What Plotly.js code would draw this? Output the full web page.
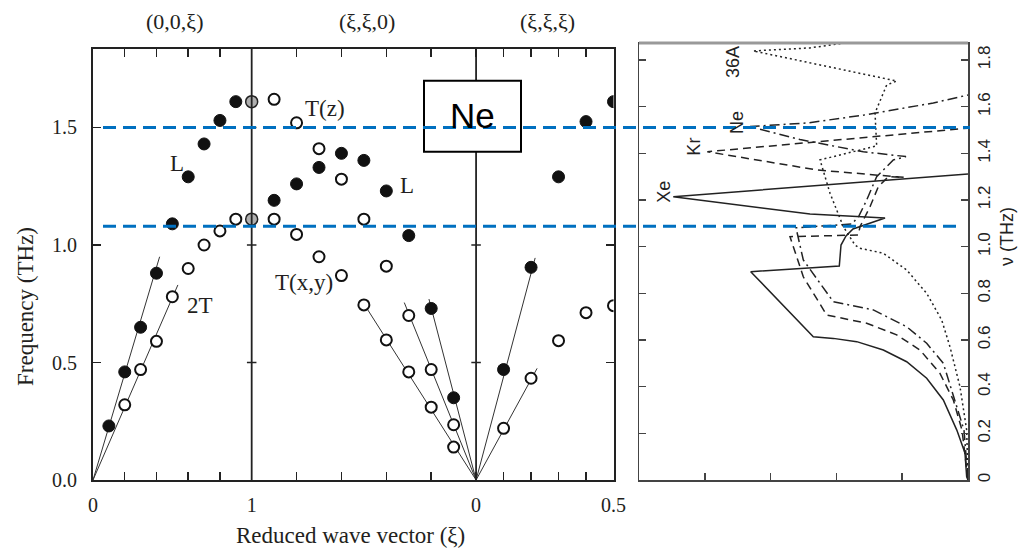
<!DOCTYPE html>
<html><head><meta charset="utf-8">
<script src="https://cdn.plot.ly/plotly-3.0.1.min.js"></script>
<style>html,body{margin:0;padding:0;background:#fff}#chart{width:1024px;height:549px}</style>
</head><body><div id="chart"></div>
<script>
// ===== Left panel: Ne phonon dispersion =====
const dirLabels = ['(0,0,ξ)', '(ξ,ξ,0)', '(ξ,ξ,ξ)'];
const freqTicks = [0, 0.5, 1.0, 1.5];
const freqTickText = ['0.0', '0.5', '1.0', '1.5'];

// (0,0,ξ)
const d100_L_xi = [0.1, 0.2, 0.3, 0.4, 0.5, 0.6, 0.7, 0.8, 0.9];
const d100_L_nu = [0.23, 0.46, 0.65, 0.88, 1.09, 1.29, 1.43, 1.53, 1.61];
const d100_T_xi = [0.2, 0.3, 0.4, 0.5, 0.6, 0.7, 0.8, 0.9];
const d100_T_nu = [0.32, 0.47, 0.59, 0.78, 0.90, 1.00, 1.06, 1.11];
// zone boundary X point (grey)
const zb_xi = [1.0, 1.0];
const zb_nu = [1.61, 1.11];
// (ξ,ξ,0)
const d110_L_xi = [0.9, 0.8, 0.7, 0.6, 0.5, 0.4, 0.3, 0.2, 0.1];
const d110_L_nu = [1.19, 1.26, 1.33, 1.39, 1.36, 1.23, 1.04, 0.73, 0.35];
const d110_Tz_xi = [0.9, 0.8, 0.7, 0.6, 0.5, 0.4, 0.3, 0.2, 0.1];
const d110_Tz_nu = [1.62, 1.52, 1.41, 1.28, 1.11, 0.91, 0.70, 0.47, 0.235];
const d110_Txy_xi = [0.9, 0.8, 0.7, 0.6, 0.5, 0.4, 0.3, 0.2, 0.1];
const d110_Txy_nu = [1.11, 1.045, 0.95, 0.87, 0.745, 0.596, 0.46, 0.31, 0.14];
// (ξ,ξ,ξ)
const d111_L_xi = [0.1, 0.2, 0.3, 0.4, 0.5];
const d111_L_nu = [0.47, 0.905, 1.29, 1.525, 1.61];
const d111_T_xi = [0.1, 0.2, 0.3, 0.4, 0.5];
const d111_T_nu = [0.22, 0.433, 0.593, 0.712, 0.742];

// sound-velocity lines from Γ: [segment, end ξ, end ν]
const slopeSeg = [0, 0, 1, 1, 1, 2, 2];
const slopeXi  = [0.42, 0.535, 0.5, 0.32, 0.21, 0.215, 0.222];
const slopeNu  = [0.95, 0.83, 0.75, 0.755, 0.77, 0.945, 0.475];

// ===== Right panel: density of states (ν in THz) =====
const xe_g  = [0, 0.02, 0.046, 0.17, 0.375, 0.628, 0.932, 1.287, 1.691, 2.047, 2.351, 3.302, 1.956, 1.930, 1.854, 1.748, 1.261, 2.401, 4.479, 0];
const xe_nu = [0, 0.014, 0.116, 0.214, 0.343, 0.436, 0.507, 0.557, 0.593, 0.607, 0.614, 0.893, 0.917, 1.007, 1.046, 1.076, 1.123, 1.140, 1.214, 1.312];
const kr_g  = [0, 0.091, 0.223, 0.426, 0.729, 1.084, 1.540, 2.147, 2.503, 2.705, 1.667, 1.641, 1.489, 1.363, 1.211, 0.973, 2.299, 3.962, 0];
const kr_nu = [0, 0.214, 0.343, 0.457, 0.557, 0.622, 0.672, 0.707, 0.871, 1.043, 1.050, 1.086, 1.171, 1.257, 1.300, 1.297, 1.329, 1.407, 1.508];
const ne_g  = [0, 0.061, 0.375, 0.628, 0.932, 1.439, 2.047, 2.503, 2.614, 1.763, 1.657, 1.540, 1.388, 1.135, 0.942, 1.591, 2.553, 3.313, 2.451, 1.540, 0.527, 0.172, 0];
const ne_nu = [0, 0.214, 0.500, 0.586, 0.657, 0.729, 0.764, 0.943, 1.081, 1.097, 1.132, 1.200, 1.300, 1.372, 1.386, 1.407, 1.459, 1.515, 1.530, 1.566, 1.616, 1.637, 1.650];
const ar_g  = [0, 0.020, 0.122, 0.274, 0.400, 0.628, 0.932, 1.287, 1.641, 1.717, 1.895, 2.097, 2.249, 1.388, 1.413, 1.236, 1.084, 2.553, 3.263, 2.401, 1.869];
const ar_nu = [0, 0.214, 0.400, 0.571, 0.686, 0.800, 0.900, 0.972, 0.993, 1.007, 1.086, 1.229, 1.372, 1.432, 1.573, 1.693, 1.710, 1.795, 1.839, 1.852, 1.873];
const dosNames = ['Xe', 'Kr', 'Ne', '36A'];
const dosLabelG  = [4.62, 4.16, 3.51, 3.56];
const dosLabelNu = [1.235, 1.43, 1.53, 1.79];
const nuTicks = [0, 0.2, 0.4, 0.6, 0.8, 1.0, 1.2, 1.4, 1.6, 1.8];
const nuTickText = ['0', '0.2', '0.4', '0.6', '0.8', '1.0', '1.2', '1.4', '1.6', '1.8'];

// highlighted frequencies (blue dashed)
const markFreq = [1.5, 1.08];

// ===== geometry helpers =====
const SQ2 = Math.SQRT2, SQ3 = Math.sqrt(3);
function pos(seg, xi) {
  if (seg === 0) return xi;
  if (seg === 1) return 1 + SQ2 * (1 - xi);
  return 1 + SQ2 + SQ3 * xi;
}
const XMAX = pos(2, 0.5);
const DIV1 = pos(0, 1), DIV2 = pos(1, 0);
const W = 1024, H = 549;
const px = v => v / W, py = v => 1 - v / H;

const serif = 'Liberation Serif, Times New Roman, serif';
const sans = 'Liberation Sans, Arial, sans-serif';
const ink = '#231f20';

const traces = [];
// slope lines
for (let i = 0; i < slopeSeg.length; i++) {
  traces.push({x: [pos(slopeSeg[i], 0), pos(slopeSeg[i], slopeXi[i])], y: [0, slopeNu[i]],
    mode: 'lines', line: {color: '#333', width: 1}, hoverinfo: 'skip', showlegend: false, xaxis: 'x', yaxis: 'y'});
}
function pts(seg, xs, ys, kind) {
  const m = kind === 'filled' ? {color: '#111', size: 12, line: {color: '#111', width: 1}}
          : kind === 'grey' ? {color: '#b0b0b0', size: 12, line: {color: '#222', width: 1.5}}
          : {color: '#fff', size: 11, line: {color: '#111', width: 2}};
  traces.push({x: xs.map(v => pos(seg, v)), y: ys, mode: 'markers', marker: m, showlegend: false, xaxis: 'x', yaxis: 'y'});
}
pts(0, d100_L_xi, d100_L_nu, 'filled');
pts(0, d100_T_xi, d100_T_nu, 'open');
pts(1, d110_L_xi, d110_L_nu, 'filled');
pts(1, d110_Tz_xi, d110_Tz_nu, 'open');
pts(1, d110_Txy_xi, d110_Txy_nu, 'open');
pts(2, d111_L_xi, d111_L_nu, 'filled');
pts(2, d111_T_xi, d111_T_nu, 'open');
pts(0, zb_xi, zb_nu, 'grey');

// DOS curves
const dosData = [[xe_g, xe_nu, 'solid'], [kr_g, kr_nu, '8px,5px'], [ne_g, ne_nu, '10px,4px,2px,4px'], [ar_g, ar_nu, '2px,3px']];
dosData.forEach(d => traces.push({x: d[0], y: d[1], mode: 'lines', line: {color: '#222', width: 1.5, dash: d[2]},
  showlegend: false, xaxis: 'x2', yaxis: 'y2'}));

// x ticks
const xTickVals = [], xTickText = [];
[[0, [0.2, 0.4, 0.6, 0.8]], [1, [0.2, 0.4, 0.6, 0.8]], [2, [0.1, 0.2, 0.3, 0.4]]].forEach(s => s[1].forEach(v => { xTickVals.push(pos(s[0], v)); xTickText.push(''); }));
[[0, 0, '0'], [0, 1, '1'], [1, 0, '0'], [2, 0.5, '0.5']].forEach(t => { xTickVals.push(pos(t[0], t[1])); xTickText.push(t[2]); });

const shapes = [];
// dividers
[DIV1, DIV2].forEach(xd => {
  shapes.push({type: 'line', xref: 'x', yref: 'y', x0: xd, x1: xd, y0: 0, y1: 1.834, line: {color: '#222', width: 1.8}});
  freqTicks.slice(1).forEach(f => shapes.push({type: 'line', xref: 'x', yref: 'y', x0: xd - 0.03, x1: xd + 0.03, y0: f, y1: f, line: {color: '#222', width: 1.5}}));
});
// Ne box
shapes.push({type: 'rect', xref: 'paper', yref: 'paper', x0: px(424), x1: px(521), y0: py(151.7), y1: py(80.7), fillcolor: '#fff', line: {color: '#000', width: 2}, layer: 'above'});
// right panel top edge (grey)
shapes.push({type: 'line', xref: 'paper', yref: 'paper', x0: px(639), x1: px(968), y0: py(43), y1: py(43), line: {color: '#999', width: 3}});
// blue dashed highlight lines
shapes.push({type: 'line', xref: 'paper', yref: 'y', x0: px(103), x1: px(970), y0: markFreq[0], y1: markFreq[0], line: {color: '#0070C0', width: 3, dash: '13px,7px'}, layer: 'above'});
shapes.push({type: 'line', xref: 'paper', yref: 'y', x0: px(103), x1: px(963), y0: markFreq[1], y1: markFreq[1], line: {color: '#0070C0', width: 3, dash: '13px,7px'}, layer: 'above'});

const ann = [];
function txt(text, x, y, family, size, extra) {
  ann.push(Object.assign({text: text, xref: 'paper', yref: 'paper', x: px(x), y: py(y), xanchor: 'center', yanchor: 'middle',
    showarrow: false, font: {family: family, size: size, color: ink}}, extra || {}));
}
const topX = [174, 367, 547];
dirLabels.forEach((t, i) => txt(t, topX[i], 22, serif, 22));
const branchLabels = [['L', 177, 164], ['2T', 200, 305], ['T(z)', 325, 108], ['L', 407, 185], ['T(x,y)', 304, 282]];
branchLabels.forEach(b => txt(b[0], b[1], b[2], serif, 23));
txt('Frequency (THz)', 25, 307, serif, 23, {textangle: -90});
txt('Reduced wave vector (ξ)', 350, 535, serif, 23);
txt('Ne', 472.5, 116, sans, 35, {font: {family: sans, size: 35, color: '#000'}});
dosNames.forEach((n, i) => ann.push({text: n, xref: 'x2', yref: 'y2', x: dosLabelG[i], y: dosLabelNu[i], xanchor: 'center', yanchor: 'middle',
  textangle: -90, showarrow: false, font: {family: sans, size: 18, color: '#222'}}));
txt('ν (THz)', 1007, 237, sans, 18, {textangle: -90, font: {family: sans, size: 18, color: '#222'}});

const layout = {
  width: W, height: H, margin: {l: 0, r: 0, t: 0, b: 0}, paper_bgcolor: '#fff', plot_bgcolor: 'rgba(0,0,0,0)',
  showlegend: false,
  xaxis: {domain: [px(93), px(613.5)], range: [0, XMAX], tickmode: 'array', tickvals: xTickVals, ticktext: xTickText,
    ticks: 'inside', ticklen: 8, tickwidth: 1.5, tickcolor: '#222', showgrid: false, zeroline: false,
    showline: true, linecolor: '#222', linewidth: 2, mirror: 'allticks', ticklabelstandoff: 6,
    tickfont: {family: serif, size: 20, color: ink}, anchor: 'y'},
  yaxis: {domain: [1 - 480 / H, 1 - 49 / H], range: [0, 1.834], tickmode: 'array', tickvals: freqTicks, ticktext: freqTickText,
    ticks: 'inside', ticklen: 8, tickwidth: 1.5, tickcolor: '#222', showgrid: false, zeroline: false,
    showline: true, linecolor: '#222', linewidth: 2, mirror: 'allticks', ticklabelstandoff: 10,
    tickfont: {family: serif, size: 20, color: ink}, anchor: 'x'},
  xaxis2: {domain: [px(639), px(968)], range: [5, 0], tickmode: 'array', tickvals: [1, 2, 3, 4], showticklabels: false,
    ticks: 'inside', ticklen: 7, tickwidth: 1.5, tickcolor: '#444', showgrid: false, zeroline: false,
    showline: true, linecolor: '#444', linewidth: 1.5, mirror: true, anchor: 'y2'},
  yaxis2: {domain: [1 - 480 / H, 1 - 43 / H], range: [0, 1.873], side: 'right', tickmode: 'array', tickvals: nuTicks, ticktext: nuTickText,
    tickangle: -90, ticks: 'inside', ticklen: 7, tickwidth: 1.5, tickcolor: '#444', showgrid: false, zeroline: false,
    showline: true, linecolor: '#444', linewidth: 1.5, mirror: 'allticks', ticklabelstandoff: 0,
    tickfont: {family: sans, size: 17, color: '#222'}, anchor: 'x2'},
  shapes: shapes, annotations: ann
};
Plotly.newPlot('chart', traces, layout, {displayModeBar: false, staticPlot: true});
</script></body></html>
